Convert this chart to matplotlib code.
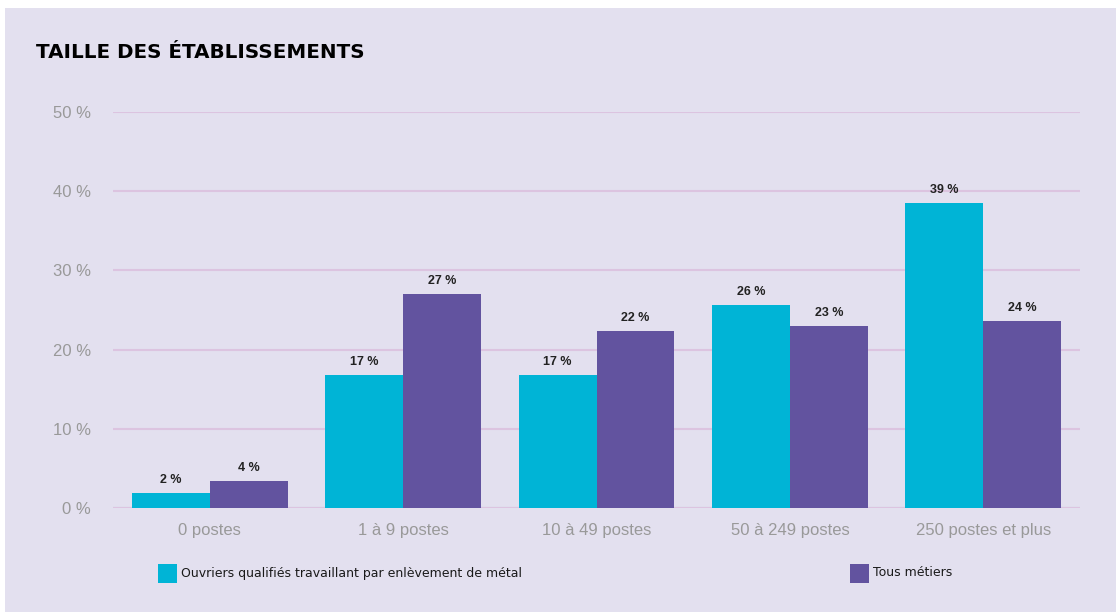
import numpy as np
import matplotlib.pyplot as plt
from matplotlib.patches import Rectangle

categories = ['0 postes', '1 à 9 postes', '10 à 49 postes', '50 à 249 postes', '250 postes et plus']
ouvriers = [1.9, 16.8, 16.8, 25.6, 38.5]
tous = [3.4, 27.0, 22.3, 23.0, 23.6]
ouvriers_labels = ['2 %', '17 %', '17 %', '26 %', '39 %']
tous_labels = ['4 %', '27 %', '22 %', '23 %', '24 %']
series_names = ['Ouvriers qualifiés travaillant par enlèvement de métal', 'Tous métiers']

W, H = 1117, 612
bg = '#E3E0EF'
cyan = '#00B4D6'
purple = '#62539F'

fig = plt.figure(figsize=(W / 100, H / 100), dpi=100, facecolor='white')
fig.patches.append(Rectangle((5 / W, 0), (W - 6) / W, (H - 8) / H,
                             transform=fig.transFigure, facecolor=bg,
                             edgecolor='none', zorder=-10))

ax = fig.add_axes([113 / W, (H - 508) / H, (1080 - 113) / W, (508 - 112) / H])
ax.set_facecolor('none')

x = np.arange(len(categories))
width = 0.403
b1 = ax.bar(x - width / 2, ouvriers, width, color=cyan, zorder=3)
b2 = ax.bar(x + width / 2, tous, width, color=purple, zorder=3)

for bars, labels in [(b1, ouvriers_labels), (b2, tous_labels)]:
    for bar, lab in zip(bars, labels):
        ax.text(bar.get_x() + bar.get_width() / 2, bar.get_height() + 0.9, lab,
                ha='center', va='bottom', fontsize=9, fontweight='bold',
                color='#222222', family='Liberation Sans')

ax.set_xlim(-0.5, 4.5)
ax.set_ylim(0, 50)
ax.set_yticks(np.arange(0, 51, 10))
ax.set_yticklabels([f'{v} %' for v in range(0, 51, 10)])
ax.set_xticks(x)
ax.set_xticklabels(categories)
ax.grid(axis='y', color='#DCC4E0', linewidth=1.5, zorder=0)
ax.axhline(0, color='#C9CFE6', linewidth=1.5, zorder=1)
for s in ax.spines.values():
    s.set_visible(False)
ax.tick_params(length=0, labelsize=12, labelcolor='#999999')
ax.tick_params(axis='y', pad=16)
ax.tick_params(axis='x', pad=11)
for t in ax.get_xticklabels() + ax.get_yticklabels():
    t.set_family('Liberation Sans')

fig.text(36 / W, 1 - 52 / H, 'TAILLE DES ÉTABLISSEMENTS', fontsize=14.3,
         fontweight='bold', color='black', va='center', ha='left')

# legend, drawn by hand as two swatches
for px, name, col in [(158, series_names[0], cyan), (850, series_names[1], purple)]:
    fig.patches.append(Rectangle((px / W, 1 - 583 / H), 19 / W, 19 / H,
                                 transform=fig.transFigure, facecolor=col,
                                 edgecolor='none'))
    fig.text((px + 23) / W, 1 - 573 / H, name, fontsize=9, color='#1a1a1a',
             va='center', ha='left')

fig.savefig('out.png', dpi=100, facecolor='white')
